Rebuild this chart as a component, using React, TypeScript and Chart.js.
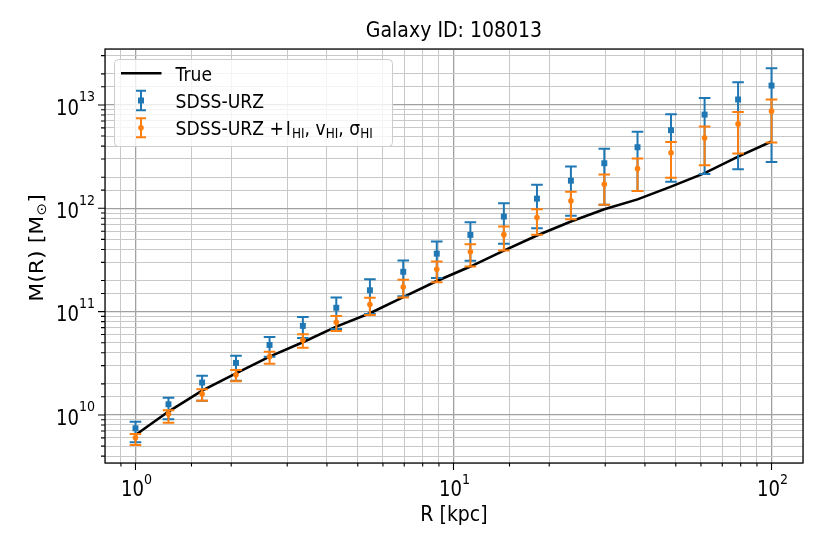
import { useEffect, useRef } from 'react';
import { Chart, registerables } from 'chart.js';

Chart.register(...registerables);

// radii of the sampled points, kpc
const radius = [1.0, 1.27, 1.62, 2.07, 2.64, 3.36, 4.28, 5.46, 6.95, 8.86, 11.3, 14.4, 18.3, 23.4, 29.8, 37.9, 48.3, 61.6, 78.5, 100];

// true enclosed mass
const massTrue = [6.4e9, 1.08e10, 1.72e10, 2.53e10, 3.67e10, 5.06e10, 7.16e10, 9.66e10, 1.38e11, 1.98e11, 2.73e11, 3.9e11, 5.45e11, 7.44e11, 9.8e11, 1.22e12, 1.62e12, 2.19e12, 3.16e12, 4.43e12];

// SDSS-URZ estimate with lower / upper bounds
const urzMid = [7.43e9, 1.27e10, 2.06e10, 3.19e10, 4.76e10, 7.28e10, 1.09e11, 1.61e11, 2.43e11, 3.64e11, 5.53e11, 8.32e11, 1.24e12, 1.85e12, 2.73e12, 3.9e12, 5.7e12, 8.07e12, 1.13e13, 1.54e13];
const urzLo = [5.45e9, 9.09e9, 1.37e10, 2.15e10, 3.67e10, 5.56e10, 6.81e10, 9.51e10, 1.41e11, 2.12e11, 3.11e11, 4.55e11, 6.41e11, 8.49e11, 1.08e12, 1.47e12, 1.81e12, 2.15e12, 2.39e12, 2.81e12];
const urzHi = [8.61e9, 1.47e10, 2.4e10, 3.75e10, 5.69e10, 8.89e10, 1.37e11, 2.06e11, 3.13e11, 4.76e11, 7.31e11, 1.12e12, 1.69e12, 2.54e12, 3.78e12, 5.52e12, 8.15e12, 1.17e13, 1.66e13, 2.27e13];

// SDSS-URZ + HI estimate
const hiMid = [6.03e9, 1.02e10, 1.6e10, 2.45e10, 3.67e10, 5.32e10, 7.89e10, 1.17e11, 1.73e11, 2.57e11, 3.8e11, 5.56e11, 8.13e11, 1.18e12, 1.71e12, 2.42e12, 3.44e12, 4.8e12, 6.56e12, 8.71e12];
const hiLo = [5.13e9, 8.42e9, 1.37e10, 2.12e10, 3.14e10, 4.48e10, 6.5e10, 9.29e10, 1.37e11, 1.93e11, 2.73e11, 3.9e11, 5.56e11, 7.84e11, 1.08e12, 1.47e12, 1.98e12, 2.61e12, 3.39e12, 4.33e12];
const hiHi = [6.55e9, 1.11e10, 1.77e10, 2.73e10, 4.1e10, 6.04e10, 9.08e10, 1.36e11, 2.04e11, 3.05e11, 4.48e11, 6.65e11, 9.8e11, 1.45e12, 2.12e12, 3.04e12, 4.37e12, 6.18e12, 8.57e12, 1.13e13];

const BLUE = '#1f77b4';
const ORANGE = '#ff7f0e';
const FONT = '"DejaVu Sans", sans-serif';
const SX = 0.86; // the reference is squeezed horizontally
const CAP = 5.8;

type Run = { t: string; size: number; dy?: number; gap?: number };

function drawRuns(ctx: CanvasRenderingContext2D, runs: Run[], x: number, y: number, align: 'left' | 'center' | 'right', rotate = false) {
  ctx.save();
  ctx.translate(x, y);
  ctx.scale(SX, 1);
  if (rotate) ctx.rotate(-Math.PI / 2);
  ctx.textAlign = 'left';
  ctx.textBaseline = 'alphabetic';
  ctx.fillStyle = '#000';
  let w = 0;
  for (const r of runs) {
    ctx.font = `${r.size}px ${FONT}`;
    w += (r.gap || 0) + ctx.measureText(r.t).width;
  }
  let cx = align === 'left' ? 0 : align === 'center' ? -w / 2 : -w;
  for (const r of runs) {
    ctx.font = `${r.size}px ${FONT}`;
    cx += r.gap || 0;
    ctx.fillText(r.t, cx, r.dy || 0);
    cx += ctx.measureText(r.t).width;
  }
  ctx.restore();
}

const isMajor = (v: number) => {
  const l = Math.log10(v);
  return Math.abs(l - Math.round(l)) < 1e-6;
};

const gridColor = (c: any) => (c.tick && isMajor(c.tick.value) ? '#a0a0a0' : '#c8c8c8');
const gridWidth = (c: any) => (c.tick && isMajor(c.tick.value) ? 1.3 : 1);

function errorHandle(ctx: CanvasRenderingContext2D, x: number, yc: number, half: number, color: string, square: boolean) {
  ctx.strokeStyle = color;
  ctx.fillStyle = color;
  ctx.lineWidth = 2;
  ctx.beginPath();
  ctx.moveTo(x, yc - half);
  ctx.lineTo(x, yc + half);
  ctx.moveTo(x - 5, yc - half);
  ctx.lineTo(x + 5, yc - half);
  ctx.moveTo(x - 5, yc + half);
  ctx.lineTo(x + 5, yc + half);
  ctx.stroke();
  ctx.beginPath();
  if (square) ctx.rect(x - 3, yc - 3, 6, 6);
  else ctx.arc(x, yc, 2.8, 0, Math.PI * 2);
  ctx.fill();
}

const errorBars = {
  id: 'errorBars',
  beforeDatasetDraw(chart: any, args: any) {
    const ds = chart.data.datasets[args.index];
    if (!ds.errLo) return;
    const ctx: CanvasRenderingContext2D = chart.ctx;
    const ys = chart.scales.y;
    ctx.save();
    ctx.strokeStyle = ds.backgroundColor;
    ctx.lineWidth = 2;
    args.meta.data.forEach((pt: any, i: number) => {
      const y0 = ys.getPixelForValue(ds.errLo[i]);
      const y1 = ys.getPixelForValue(ds.errHi[i]);
      ctx.beginPath();
      ctx.moveTo(pt.x, y0);
      ctx.lineTo(pt.x, y1);
      ctx.moveTo(pt.x - CAP, y0);
      ctx.lineTo(pt.x + CAP, y0);
      ctx.moveTo(pt.x - CAP, y1);
      ctx.lineTo(pt.x + CAP, y1);
      ctx.stroke();
    });
    ctx.restore();
  },
};

const frame = {
  id: 'frame',
  afterDraw(chart: any) {
    const ctx: CanvasRenderingContext2D = chart.ctx;
    const { left, right, top, bottom } = chart.chartArea;
    const xs = chart.scales.x;
    const ys = chart.scales.y;
    ctx.save();

    // spines
    ctx.strokeStyle = '#000';
    ctx.lineWidth = 1.25;
    ctx.strokeRect(left, top, right - left, bottom - top);

    // tick marks, outside
    ctx.lineWidth = 1.1;
    ctx.beginPath();
    for (const t of xs.ticks) {
      if (t.value <= xs.min || t.value >= xs.max) continue;
      const px = xs.getPixelForValue(t.value);
      ctx.moveTo(px, bottom);
      ctx.lineTo(px, bottom + (isMajor(t.value) ? 7 : 3.5));
    }
    for (const t of ys.ticks) {
      if (t.value <= ys.min || t.value >= ys.max) continue;
      const py = ys.getPixelForValue(t.value);
      ctx.moveTo(left, py);
      ctx.lineTo(left - (isMajor(t.value) ? 7 : 4), py);
    }
    ctx.stroke();

    // tick labels
    for (const t of xs.ticks) {
      if (!isMajor(t.value)) continue;
      const e = Math.round(Math.log10(t.value));
      drawRuns(ctx, [{ t: '10', size: 21 }, { t: String(e), size: 14.7, dy: -12 }], xs.getPixelForValue(t.value) + 1, 496, 'center');
    }
    for (const t of ys.ticks) {
      if (!isMajor(t.value)) continue;
      const e = Math.round(Math.log10(t.value));
      drawRuns(ctx, [{ t: '10', size: 21 }, { t: String(e), size: 14.7, dy: -13.3 }], 95, ys.getPixelForValue(t.value) + 9.7, 'right');
    }

    // title and axis labels
    drawRuns(ctx, [{ t: 'Galaxy ID: 108013', size: 22 }], (left + right) / 2, 37.3, 'center');
    drawRuns(ctx, [{ t: 'R [kpc]', size: 22 }], (left + right) / 2, 520.7, 'center');
    drawRuns(ctx, [{ t: 'M(R) [M', size: 22 }, { t: '⊙', size: 15.4, dy: 3.5 }, { t: ']', size: 22 }], 43.3, 248, 'center', true);

    // legend
    ctx.beginPath();
    ctx.roundRect(114.5, 59.5, 278, 87, 4);
    ctx.fillStyle = 'rgba(255,255,255,0.8)';
    ctx.fill();
    ctx.strokeStyle = '#cccccc';
    ctx.lineWidth = 1;
    ctx.stroke();

    ctx.strokeStyle = '#000';
    ctx.lineWidth = 2.6;
    ctx.beginPath();
    ctx.moveTo(121, 73.3);
    ctx.lineTo(161.5, 73.3);
    ctx.stroke();
    drawRuns(ctx, [{ t: 'True', size: 20 }], 175.5, 80.7, 'left');

    errorHandle(ctx, 141, 100.5, 9.7, BLUE, true);
    drawRuns(ctx, [{ t: 'SDSS-URZ', size: 20 }], 175.5, 107.7, 'left');

    errorHandle(ctx, 141, 127.8, 9.5, ORANGE, false);
    drawRuns(
      ctx,
      [
        { t: 'SDSS-URZ +', size: 20 },
        { t: 'I', size: 20, gap: 2 },
        { t: 'HI', size: 14, dy: 3, gap: 1.5 },
        { t: ', v', size: 20 },
        { t: 'HI', size: 14, dy: 3 },
        { t: ', σ', size: 20 },
        { t: 'HI', size: 14, dy: 3 },
      ],
      175.5,
      135,
      'left'
    );

    ctx.restore();
  },
};

export default function App() {
  const canvasRef = useRef<HTMLCanvasElement>(null);

  useEffect(() => {
    if (!canvasRef.current) return;
    const pts = (ys: number[]) => radius.map((r, i) => ({ x: r, y: ys[i] }));

    const chart = new Chart(canvasRef.current, {
      type: 'scatter',
      data: {
        datasets: [
          {
            label: 'True',
            data: pts(massTrue),
            showLine: true,
            borderColor: '#000',
            borderWidth: 2.6,
            pointRadius: 0,
            order: 3,
          },
          {
            label: 'SDSS-URZ',
            data: pts(urzMid),
            backgroundColor: BLUE,
            borderColor: BLUE,
            pointStyle: 'rect',
            pointRadius: 4.2,
            pointBorderWidth: 0,
            errLo: urzLo,
            errHi: urzHi,
            order: 2,
          } as any,
          {
            label: 'SDSS-URZ +HI',
            data: pts(hiMid),
            backgroundColor: ORANGE,
            borderColor: ORANGE,
            pointStyle: 'circle',
            pointRadius: 2.8,
            pointBorderWidth: 0,
            errLo: hiLo,
            errHi: hiHi,
            order: 1,
          } as any,
        ],
      },
      options: {
        responsive: true,
        maintainAspectRatio: false,
        animation: false,
        layout: { padding: { top: 49, right: 27, left: 0, bottom: 0 } },
        plugins: {
          legend: { display: false },
          title: { display: false },
          tooltip: { enabled: false },
        },
        scales: {
          x: {
            type: 'logarithmic',
            min: 0.802,
            max: 125.6,
            ticks: { display: false },
            grid: { color: gridColor, lineWidth: gridWidth, drawTicks: false },
            border: { display: false },
            afterFit: (s: any) => {
              s.height = 91;
            },
          },
          y: {
            type: 'logarithmic',
            min: 3.43e9,
            max: 3.48e13,
            ticks: { display: false },
            grid: { color: gridColor, lineWidth: gridWidth, drawTicks: false },
            border: { display: false },
            afterFit: (s: any) => {
              s.width = 105;
            },
          },
        },
      },
      plugins: [errorBars, frame],
    });

    return () => chart.destroy();
  }, []);

  return (
    <div style={{ position: 'absolute', left: 0, top: 0, width: 830, height: 554, background: '#fff' }}>
      <canvas ref={canvasRef} />
    </div>
  );
}
